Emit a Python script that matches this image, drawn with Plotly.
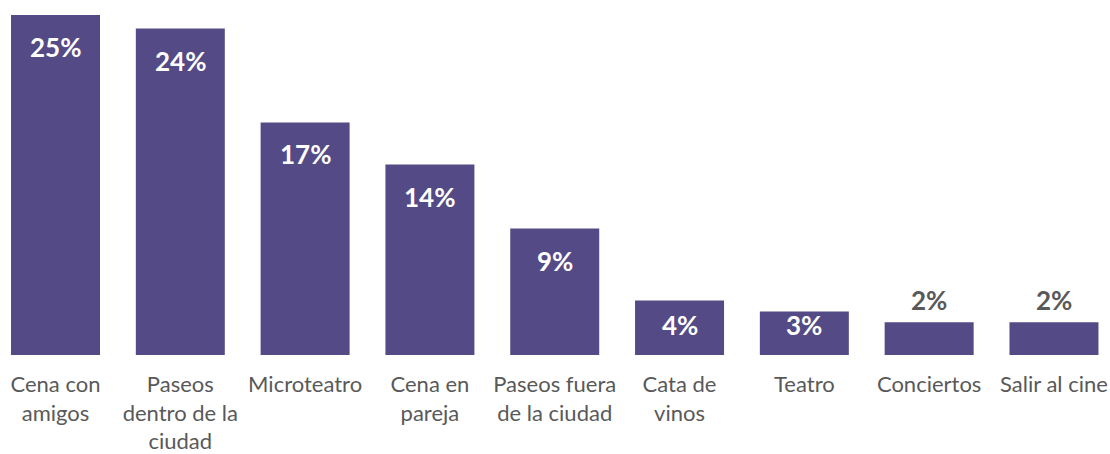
import plotly.graph_objects as go

categories = ["Cena con<br>amigos", "Paseos<br>dentro de la<br>ciudad", "Microteatro",
              "Cena en<br>pareja", "Paseos fuera<br>de la ciudad", "Cata de<br>vinos",
              "Teatro", "Conciertos", "Salir al cine"]
values = [25.0, 24.0, 17.1, 14.0, 9.3, 4.0, 3.2, 2.4, 2.4]
labels = ["25%", "24%", "17%", "14%", "9%", "4%", "3%", "2%", "2%"]
inside = [True, True, True, True, True, True, True, False, False]

Y_MAX = 26.1
PLOT_H = 355
PX_PER_UNIT = PLOT_H / Y_MAX

x = list(range(len(categories)))
fig = go.Figure()
fig.add_trace(go.Bar(x=x, y=values, width=0.713, marker=dict(color="#544a86", line=dict(width=0)),
                     hoverinfo="skip"))

font_name = "Lato"
for xi, v, lab, ins in zip(x, values, labels, inside):
    if ins:
        if v * PX_PER_UNIT - 32 > 30:
            yy, shift = v, -32
        else:
            yy, shift = 0, 30
        fig.add_annotation(x=xi, y=yy, text=f"<b>{lab}</b>", showarrow=False, yanchor="middle",
                           yshift=shift, font=dict(family=font_name, size=26, color="white"))
    else:
        fig.add_annotation(x=xi, y=v, text=f"<b>{lab}</b>", showarrow=False, yanchor="middle",
                           yshift=22, font=dict(family=font_name, size=26, color="#595959"))

fig.update_layout(
    width=1110, height=454,
    margin=dict(l=0, r=0, t=0, b=99),
    paper_bgcolor="white", plot_bgcolor="white",
    showlegend=False,
    xaxis=dict(tickmode="array", tickvals=x, ticktext=categories, range=[-0.4447, 8.449],
               showgrid=False, zeroline=False, showline=False, ticks="",
               tickfont=dict(family=font_name, size=22, color="#595959"), ticklabelstandoff=14),
    yaxis=dict(range=[0, Y_MAX], visible=False, showgrid=False, zeroline=False),
)
fig.write_html("out.html", config={"displayModeBar": False},
               post_script="document.body.style.margin='0';document.body.style.overflow='hidden';")
